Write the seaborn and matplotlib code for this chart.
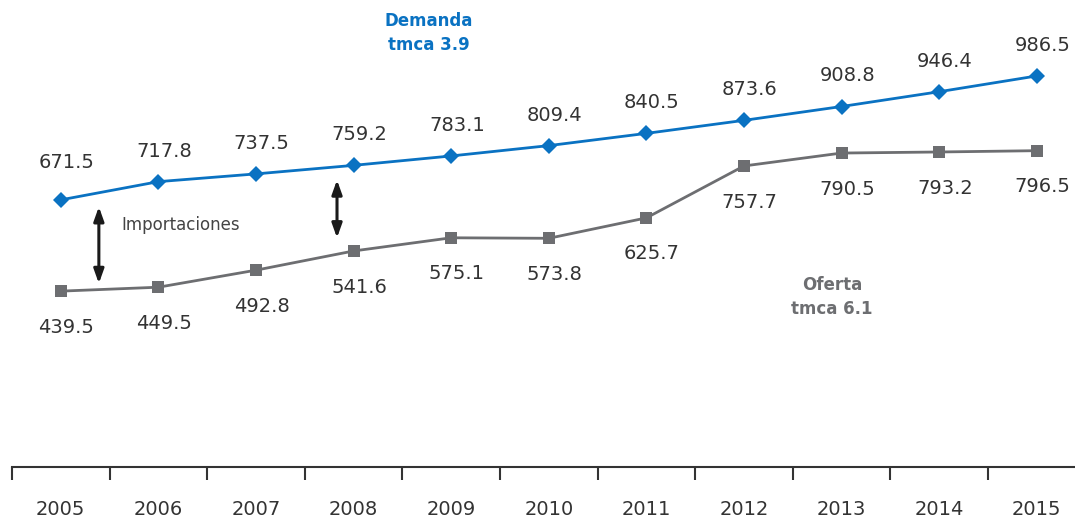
import numpy as np
import pandas as pd
import matplotlib
matplotlib.use("Agg")
import matplotlib.pyplot as plt
import seaborn as sns

years = ["2005", "2006", "2007", "2008", "2009", "2010",
         "2011", "2012", "2013", "2014", "2015"]
demanda = [671.5, 717.8, 737.5, 759.2, 783.1, 809.4,
           840.5, 873.6, 908.8, 946.4, 986.5]
oferta = [439.5, 449.5, 492.8, 541.6, 575.1, 573.8,
          625.7, 757.7, 790.5, 793.2, 796.5]

blue = "#0a72c2"
gray = "#6d6e71"
txt = "#333333"

sns.set_theme(style="white")
plt.rcParams["font.family"] = ["DejaVu Sans"]

df = pd.DataFrame({"x": np.arange(len(years)), "demanda": demanda, "oferta": oferta})

fig = plt.figure(figsize=(10.75, 5.18), dpi=100)
ax = fig.add_axes([12 / 1075, 51 / 518, 1 - 12 / 1075, 467 / 518])

sns.lineplot(data=df, x="x", y="demanda", ax=ax, color=blue, lw=2,
             marker="D", markersize=8, markeredgewidth=0)
sns.lineplot(data=df, x="x", y="oferta", ax=ax, color=gray, lw=2,
             marker="s", markersize=9, markeredgewidth=0)

# value labels
for i, v in enumerate(demanda):
    dy = 27 if i == 0 else 22
    ax.annotate(f"{v:.1f}", (i, v), xytext=(4, dy), textcoords="offset points",
                ha="center", va="center", fontsize=14, color=txt)
for i, v in enumerate(oferta):
    ax.annotate(f"{v:.1f}", (i, v), xytext=(4, -26), textcoords="offset points",
                ha="center", va="center", fontsize=14, color=txt)

# import gap arrows
arrow = dict(arrowstyle="<|-|>,head_length=0.7,head_width=0.25", color="#1a1a1a",
             lw=2.2, mutation_scale=12, shrinkA=0, shrinkB=0)
ax.annotate("", xy=(0.39, 459), xytext=(0.39, 654), arrowprops=arrow)
ax.annotate("", xy=(2.83, 575), xytext=(2.83, 722), arrowprops=arrow)
ax.text(0.62, 607, "Importaciones", fontsize=12, color="#444444", va="center")

ax.text(3.77, 1095, "Demanda\ntmca 3.9", color=blue, fontsize=12,
        fontweight="bold", ha="center", va="center", linespacing=1.4)
ax.text(7.9, 425, "Oferta\ntmca 6.1", color=gray, fontsize=12,
        fontweight="bold", ha="center", va="center", linespacing=1.4)

ax.set_xlim(-0.5, (1075 - 12) / 97.6 - 0.5)
ax.set_ylim(-7.5, 1179.5)
ax.set_yticks([])
ax.set_xticks(np.arange(-0.5, len(years) - 0.5, 1.0))
ax.set_xticklabels([])
ax.set_xticks(np.arange(len(years)), minor=True)
ax.set_xticklabels(years, minor=True, fontsize=14, color=txt)
ax.tick_params(axis="x", which="major", direction="out", length=9, width=1.5,
               color="#333333", bottom=True)
ax.tick_params(axis="x", which="minor", length=0, pad=24)
ax.set_xlabel("")
ax.set_ylabel("")
for s in ["top", "right", "left"]:
    ax.spines[s].set_visible(False)
ax.spines["bottom"].set_color("#333333")
ax.spines["bottom"].set_linewidth(1.5)

fig.savefig("out.png", dpi=100)
